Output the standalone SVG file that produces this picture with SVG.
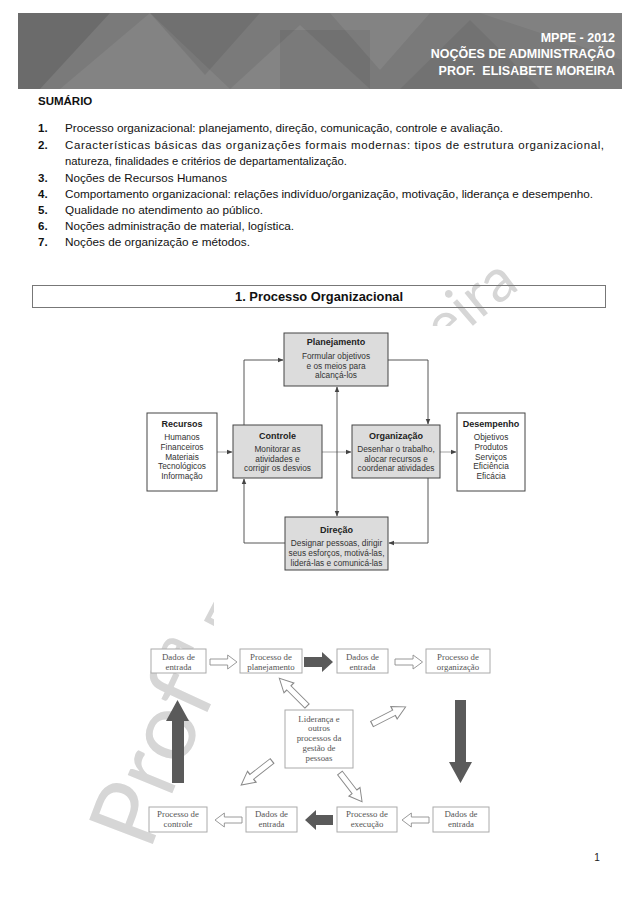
<svg xmlns="http://www.w3.org/2000/svg" xmlns:xlink="http://www.w3.org/1999/xlink" width="638" height="903" viewBox="0 0 638 903">
<style>
.hdr{font-family:"Liberation Sans",Arial,sans-serif;font-weight:bold;font-size:12.5px;fill:#fff;text-anchor:end}
.sum{font-family:"Liberation Sans",Arial,sans-serif;font-size:11.5px;fill:#111}
.num{font-family:"Liberation Sans",Arial,sans-serif;font-size:11.5px;font-weight:bold;fill:#111}
.ttl{font-family:"Liberation Sans",Arial,sans-serif;font-size:12px;font-weight:bold;fill:#111;text-anchor:middle}
.wm{font-family:"Lato","Liberation Sans",sans-serif;fill:#d6d6d6}
.bx{fill:#fff;stroke:#444;stroke-width:1}
.bs{fill:#dcdcdc;stroke:#444;stroke-width:1}
.bt{font-family:"Liberation Sans",Arial,sans-serif;font-size:9px;font-weight:bold;fill:#222;text-anchor:middle}
.bd{font-family:"Liberation Sans",Arial,sans-serif;font-size:8.3px;fill:#333;text-anchor:middle}
.cn{fill:none;stroke:#444;stroke-width:0.9}
.cl{fill:none;stroke:#999;stroke-width:0.9}
.lb{fill:#fff;stroke:#aaa;stroke-width:1}
.lt{font-family:"Liberation Serif","Times New Roman",serif;font-size:8.8px;fill:#555;text-anchor:middle}
.ho{fill:#fff;stroke:#8a8a8a;stroke-width:0.9}
.dk{fill:#5a5a5a}
.pg{font-family:"Liberation Sans",Arial,sans-serif;font-size:10px;fill:#222;text-anchor:middle}
</style>
<defs>
<marker id="ah" viewBox="0 0 10 10" refX="9" refY="5" markerWidth="6" markerHeight="6" orient="auto-start-reverse" markerUnits="userSpaceOnUse">
<path d="M0,1 L10,5 L0,9 Z" fill="#444"/>
</marker>
<path id="hol" d="M0,-3 H19 V-7 L29,0 L19,7 V3 H0 Z"/>
<path id="wmpath" d="M150,852 C218,664 351,398 536,278 L600,236"/>
</defs>
<rect width="638" height="903" fill="#fff"/>

<g id="header">
<rect x="18" y="13" width="604" height="76" fill="#7a7a7a"/>
<polygon points="18,13 110,13 40,89 18,89" fill="#000" opacity="0.12"/>
<polygon points="60,89 150,13 230,89" fill="#fff" opacity="0.07"/>
<polygon points="150,13 260,13 205,75" fill="#000" opacity="0.08"/>
<polygon points="230,89 300,25 370,89" fill="#fff" opacity="0.08"/>
<polygon points="280,30 370,30 370,89 280,89" fill="#000" opacity="0.07"/>
<polygon points="330,13 430,13 380,70" fill="#fff" opacity="0.07"/>
<polygon points="400,89 470,20 540,89" fill="#000" opacity="0.06"/>
<polygon points="480,13 622,13 622,60" fill="#fff" opacity="0.06"/>
<text class="hdr" x="615" y="42">MPPE - 2012</text>
<text class="hdr" x="615" y="58">NOÇÕES DE ADMINISTRAÇÃO</text>
<text class="hdr" x="615" y="75" xml:space="preserve">PROF.  ELISABETE MOREIRA</text>
</g>

<g id="sumario">
<text class="num" x="38" y="105">SUMÁRIO</text>
<text class="num" x="38" y="132">1.</text>
<text class="sum" x="65" y="132" textLength="438" lengthAdjust="spacingAndGlyphs">Processo organizacional: planejamento, direção, comunicação, controle e avaliação.</text>
<text class="num" x="38" y="149">2.</text>
<text class="sum" x="65" y="149" textLength="539" lengthAdjust="spacing">Características básicas das organizações formais modernas: tipos de estrutura organizacional,</text>
<text class="sum" x="65" y="165" textLength="282" lengthAdjust="spacingAndGlyphs">natureza, finalidades e critérios de departamentalização.</text>
<text class="num" x="38" y="182">3.</text>
<text class="sum" x="65" y="182" textLength="162" lengthAdjust="spacingAndGlyphs">Noções de Recursos Humanos</text>
<text class="num" x="38" y="198">4.</text>
<text class="sum" x="65" y="198" textLength="528" lengthAdjust="spacingAndGlyphs">Comportamento organizacional: relações indivíduo/organização, motivação, liderança e desempenho.</text>
<text class="num" x="38" y="214">5.</text>
<text class="sum" x="65" y="214" textLength="198" lengthAdjust="spacingAndGlyphs">Qualidade no atendimento ao público.</text>
<text class="num" x="38" y="230">6.</text>
<text class="sum" x="65" y="230" textLength="229" lengthAdjust="spacingAndGlyphs">Noções administração de material, logística.</text>
<text class="num" x="38" y="246">7.</text>
<text class="sum" x="65" y="246" textLength="185" lengthAdjust="spacingAndGlyphs">Noções de organização e métodos.</text>
</g>

<g id="watermark">
<text class="wm"><textPath href="#wmpath" xlink:href="#wmpath"><tspan font-size="95">Profª</tspan><tspan font-size="60"> Elisabete Moreira</tspan></textPath></text>
</g>
<rect x="140" y="326" width="392" height="269" fill="#fff"/>
<rect x="214" y="590" width="286" height="55" fill="#fff"/>

<g id="title">
<rect x="32.5" y="285.5" width="573" height="22" fill="none" stroke="#777" stroke-width="1"/>
<text class="ttl" x="319" y="301" textLength="168" lengthAdjust="spacingAndGlyphs">1. Processo Organizacional</text>
</g>

<g id="connectors-top">
<line class="cl" x1="217" y1="452" x2="232" y2="452" marker-end="url(#ah)"/>
<line class="cl" x1="322" y1="452" x2="351" y2="452" marker-end="url(#ah)"/>
<line class="cl" x1="440" y1="452" x2="456" y2="452" marker-end="url(#ah)"/>
<path class="cn" d="M244,425 V360 H283" marker-end="url(#ah)"/>
<path class="cn" d="M388,360 H428 V424" marker-end="url(#ah)"/>
<path class="cn" d="M428,478 V543 H389" marker-end="url(#ah)"/>
<path class="cn" d="M285,543 H244 V479" marker-end="url(#ah)"/>
<line class="cn" x1="337" y1="387" x2="337" y2="516" marker-start="url(#ah)" marker-end="url(#ah)"/>
</g>

<g id="planejamento">
<rect class="bs" x="284" y="333" width="104" height="53"/>
<text class="bt" x="336" y="345">Planejamento</text>
<text class="bd" x="336" y="358.5">Formular objetivos</text>
<text class="bd" x="336" y="368.5">e os meios para</text>
<text class="bd" x="336" y="378">alcançá-los</text>
</g>
<g id="recursos">
<rect class="bx" x="147" y="413" width="70" height="78"/>
<text class="bt" x="182" y="427">Recursos</text>
<text class="bd" x="182" y="440">Humanos</text>
<text class="bd" x="182" y="450">Financeiros</text>
<text class="bd" x="182" y="459.5">Materiais</text>
<text class="bd" x="182" y="469">Tecnológicos</text>
<text class="bd" x="182" y="478.5">Informação</text>
</g>
<g id="controle">
<rect class="bs" x="233" y="425" width="89" height="53"/>
<text class="bt" x="277.5" y="439">Controle</text>
<text class="bd" x="277.5" y="452">Monitorar as</text>
<text class="bd" x="277.5" y="461.5">atividades e</text>
<text class="bd" x="277.5" y="471">corrigir os desvios</text>
</g>
<g id="organizacao">
<rect class="bs" x="352" y="425" width="88" height="53"/>
<text class="bt" x="396" y="439">Organização</text>
<text class="bd" x="396" y="452">Desenhar o trabalho,</text>
<text class="bd" x="396" y="461.5">alocar recursos e</text>
<text class="bd" x="396" y="471">coordenar atividades</text>
</g>
<g id="desempenho">
<rect class="bx" x="457" y="413" width="68" height="78"/>
<text class="bt" x="491" y="427">Desempenho</text>
<text class="bd" x="491" y="440">Objetivos</text>
<text class="bd" x="491" y="450">Produtos</text>
<text class="bd" x="491" y="459.5">Serviços</text>
<text class="bd" x="491" y="469">Eficiência</text>
<text class="bd" x="491" y="478.5">Eficácia</text>
</g>
<g id="direcao">
<rect class="bs" x="285" y="517" width="103" height="53"/>
<text class="bt" x="336.5" y="533">Direção</text>
<text class="bd" x="336.5" y="546">Designar pessoas, dirigir</text>
<text class="bd" x="336.5" y="556">seus esforços, motivá-las,</text>
<text class="bd" x="336.5" y="566">liderá-las e comunicá-las</text>
</g>

<g id="connectors-bottom">
<use href="#hol" xlink:href="#hol" class="ho" transform="translate(210,662) scale(0.93,1)"/>
<use href="#hol" xlink:href="#hol" class="ho" transform="translate(395,662) scale(0.95,1)"/>
<use href="#hol" xlink:href="#hol" class="ho" transform="translate(242,820) rotate(180) scale(0.93,1)"/>
<use href="#hol" xlink:href="#hol" class="ho" transform="translate(429,820) rotate(180) scale(0.93,1)"/>
<use href="#hol" xlink:href="#hol" class="ho" transform="translate(307,706) rotate(-135) scale(1.35,1)"/>
<use href="#hol" xlink:href="#hol" class="ho" transform="translate(372,724) rotate(-27) scale(1.3,1)"/>
<use href="#hol" xlink:href="#hol" class="ho" transform="translate(272,761) rotate(142) scale(1.35,1)"/>
<use href="#hol" xlink:href="#hol" class="ho" transform="translate(340,773) rotate(52.5) scale(1.25,1)"/>
<path class="dk" d="M304,657 H322 V652 L333,662 L322,672 V667 H304 Z"/>
<path class="dk" d="M333,815 H316 V810 L305,820 L316,830 V825 H333 Z"/>
<path class="dk" d="M172,783 V721 H166 L177.5,700 L189,721 H184 V783 Z"/>
<path class="dk" d="M455,700 V762 H449 L460.5,783 L472,762 H466 V700 Z"/>
</g>

<g id="dados1">
<rect class="lb" x="151" y="649" width="55" height="24"/>
<text class="lt" x="178.5" y="659.5">Dados de</text>
<text class="lt" x="178.5" y="669.5">entrada</text>
</g>
<g id="proc-planejamento">
<rect class="lb" x="240" y="649" width="62" height="24"/>
<text class="lt" x="271" y="659.5">Processo de</text>
<text class="lt" x="271" y="669.5">planejamento</text>
</g>
<g id="dados2">
<rect class="lb" x="337" y="649" width="51" height="24"/>
<text class="lt" x="362.5" y="659.5">Dados de</text>
<text class="lt" x="362.5" y="669.5">entrada</text>
</g>
<g id="proc-organizacao">
<rect class="lb" x="426" y="649" width="64" height="24"/>
<text class="lt" x="458" y="659.5">Processo de</text>
<text class="lt" x="458" y="669.5">organização</text>
</g>
<g id="lideranca">
<rect class="lb" x="285" y="710" width="68" height="58"/>
<text class="lt" x="319" y="721.5">Liderança e</text>
<text class="lt" x="319" y="731.3">outros</text>
<text class="lt" x="319" y="741.1">processos da</text>
<text class="lt" x="319" y="750.9">gestão de</text>
<text class="lt" x="319" y="760.7">pessoas</text>
</g>
<g id="proc-controle">
<rect class="lb" x="149" y="807" width="58" height="25"/>
<text class="lt" x="178" y="816.5">Processo de</text>
<text class="lt" x="178" y="826.5">controle</text>
</g>
<g id="dados3">
<rect class="lb" x="246" y="807" width="51" height="25"/>
<text class="lt" x="271.5" y="816.5">Dados de</text>
<text class="lt" x="271.5" y="826.5">entrada</text>
</g>
<g id="proc-execucao">
<rect class="lb" x="337" y="807" width="60" height="25"/>
<text class="lt" x="367" y="816.5">Processo de</text>
<text class="lt" x="367" y="826.5">execução</text>
</g>
<g id="dados4">
<rect class="lb" x="433" y="807" width="56" height="25"/>
<text class="lt" x="461" y="816.5">Dados de</text>
<text class="lt" x="461" y="826.5">entrada</text>
</g>

<text class="pg" x="597" y="861">1</text>
</svg>
